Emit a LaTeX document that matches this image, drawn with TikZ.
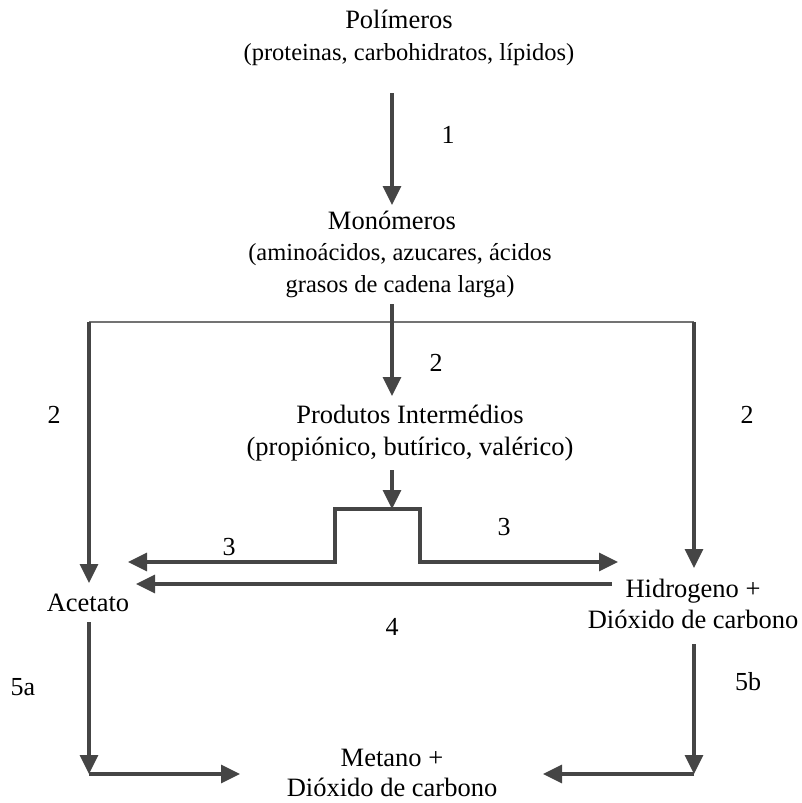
\documentclass[tikz,border=0pt]{standalone}
\usepackage{fontspec}
\setmainfont{Liberation Serif}
\usetikzlibrary{arrows.meta}
\newcommand{\headfs}{\fontsize{26.5}{31.5}\selectfont}
\begin{document}
\begin{tikzpicture}[x=1pt,y=-1pt,
  lbltop/.style={inner sep=0pt,align=center,font=\fontsize{24.5}{31.5}\selectfont},
  lbl/.style={inner sep=0pt,align=center,font=\fontsize{26.5}{31.5}\selectfont},
  num/.style={inner sep=0pt,font=\fontsize{26}{31}\selectfont},
  conn/.style={draw=black!73,line width=3.1pt},
  arr/.style={conn,-{Triangle[length=19pt,width=18pt]}},
  barr/.style={conn,{Triangle[length=19pt,width=18pt]}-{Triangle[length=19pt,width=18pt]}},
  thinline/.style={draw=black!55,line width=1.6pt}]
\useasboundingbox (0,0) rectangle (801,803);
% text nodes
\node[lbltop] (pol) at (409,38) {{\headfs Polímeros}\hspace*{20pt}\\(proteinas, carbohidratos, lípidos)};
\node[lbltop] (mono) at (400,254) {{\headfs Monómeros}\hspace*{16pt}\\(aminoácidos, azucares, ácidos\\grasos de cadena larga)};
\node[lbl] (prod) at (410,433) {Produtos Intermédios\\(propiónico, butírico, valérico)};
\node[lbl] (acet) at (88,603) {Acetato};
\node[lbl] (hidro) at (693,604) {Hidrogeno +\\Dióxido de carbono};
\node[lbl,font=\fontsize{26.5}{30.5}\selectfont] (met) at (392,773) {Metano +\\Dióxido de carbono};
% labels
\node[num] (l1) at (448,135) {1};
\node[num] (l2c) at (436,363) {2};
\node[num] (l2l) at (54,415) {2};
\node[num] (l2r) at (747,415) {2};
\node[num] (l3l) at (229,547) {3};
\node[num] (l3r) at (504,527) {3};
\node[num] (l4) at (392,627) {4};
\node[num] (l5a) at (23,687) {5a};
\node[num] (l5b) at (748,682) {5b};
% coordinates
\coordinate (a1s) at (392,93);
\coordinate (a1e) at (392,205);
\coordinate (a2s) at (392,304);
\coordinate (a2e) at (392,396);
\coordinate (tl) at (89,322);
\coordinate (tr) at (694,322);
\coordinate (ll) at (89,583);
\coordinate (rr) at (694,568);
\coordinate (a3s) at (392,470);
\coordinate (a3e) at (392,509);
\coordinate (b0) at (128,562);
\coordinate (b1) at (335,562);
\coordinate (b2) at (335,509);
\coordinate (b3) at (420,509);
\coordinate (b4) at (420,562);
\coordinate (b5) at (618,562);
\coordinate (a4s) at (612,584);
\coordinate (a4e) at (136,584);
\coordinate (a5s) at (89,622);
\coordinate (a5e) at (89,774);
\coordinate (a5f) at (240,774);
\coordinate (a6s) at (694,644);
\coordinate (a6e) at (694,774);
\coordinate (a6f) at (543,774);
% connectors
\draw[arr] (a1s) -- (a1e);
\draw[thinline] (tl) -- (tr);
\draw[arr] (a2s) -- (a2e);
\draw[arr] (tl) -- (ll);
\draw[arr] (tr) -- (rr);
\draw[arr] (a3s) -- (a3e);
\draw[barr] (b0) -- (b1) -- (b2) -- (b3) -- (b4) -- (b5);
\draw[arr] (a4s) -- (a4e);
\draw[arr] (a5s) -- (a5e);
\draw[arr] (a5e) -- (a5f);
\draw[arr] (a6s) -- (a6e);
\draw[arr] (a6e) -- (a6f);
\end{tikzpicture}
\end{document}
